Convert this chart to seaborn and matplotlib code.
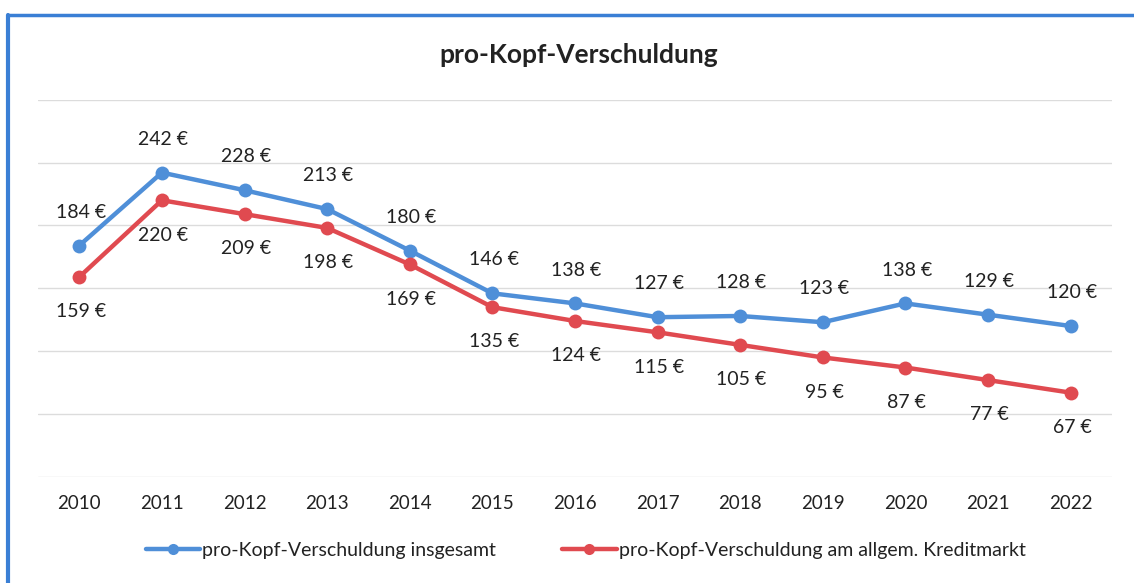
import matplotlib
matplotlib.use("Agg")
import matplotlib.pyplot as plt
import pandas as pd
import seaborn as sns

# values
years = ["2010", "2011", "2012", "2013", "2014", "2015", "2016",
         "2017", "2018", "2019", "2020", "2021", "2022"]
total = [184, 242, 228, 213, 180, 146, 138, 127, 128, 123, 138, 129, 120]
credit = [159, 220, 209, 198, 169, 135, 124, 115, 105, 95, 87, 77, 67]
series_names = ["pro-Kopf-Verschuldung insgesamt",
                "pro-Kopf-Verschuldung am allgem. Kreditmarkt"]

data = pd.DataFrame({
    "Jahr": years * 2,
    "Wert": total + credit,
    "Reihe": [series_names[0]] * len(years) + [series_names[1]] * len(years),
})

sns.set_style("white")
plt.rcParams["font.family"] = ["Lato", "DejaVu Sans"]

blue = "#4f8fd8"
red = "#e04a50"

fig = plt.figure(figsize=(11.34, 5.83), dpi=100)
ax = fig.add_axes([0.0335, 0.182, 0.947, 0.647])

sns.lineplot(data=data, x="Jahr", y="Wert", hue="Reihe", palette=[blue, red],
             marker="o", markersize=10, markeredgewidth=0, linewidth=3.2,
             sort=False, ax=ax)

ax.set_ylim(0, 300)
ax.set_xlim(-0.5, len(years) - 0.5)
ax.set_yticks(range(0, 301, 50))
ax.set_yticklabels([])
ax.yaxis.grid(True, color="#dcdcdc", linewidth=1)
ax.tick_params(axis="y", length=0)
ax.tick_params(axis="x", length=0, labelsize=13.5, pad=13, colors="#222222")
ax.set_xlabel("")
ax.set_ylabel("")
for s in ax.spines.values():
    s.set_visible(False)

# data labels: blue above, red below
for i, v in enumerate(total):
    ax.annotate(f"{v} €", (i, v), xytext=(1, 24), textcoords="offset points",
                ha="center", va="center", fontsize=14, color="#222222")
for i, v in enumerate(credit):
    ax.annotate(f"{v} €", (i, v), xytext=(1, -25), textcoords="offset points",
                ha="center", va="center", fontsize=14, color="#222222")

fig.text(0.51, 0.905, "pro-Kopf-Verschuldung", ha="center", va="center",
         fontsize=19, fontweight="bold", color="#222222")

leg = ax.legend(loc="center", bbox_to_anchor=(0.51, -0.195), ncol=2,
                frameon=False, fontsize=14, handlelength=2.8,
                columnspacing=3.4, handletextpad=0.1)
for t in leg.get_texts():
    t.set_color("#222222")
for h in leg.legend_handles:
    h.set_markersize(8)

# blue frame (scan border, left and top)
fig.add_artist(plt.Line2D([0.007, 0.007], [0, 0.975], color="#3a7fd5", linewidth=3))
fig.add_artist(plt.Line2D([0.007, 1.0], [0.975, 0.975], color="#3a7fd5", linewidth=2.5))

fig.savefig("out.png", dpi=100)
